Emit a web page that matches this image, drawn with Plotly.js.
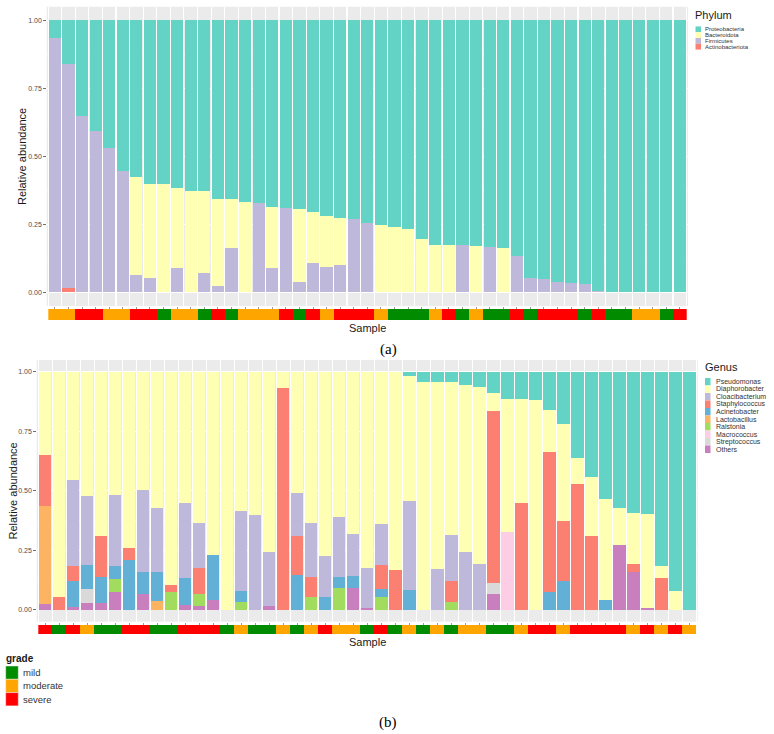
<!DOCTYPE html>
<html>
<head>
<meta charset="utf-8">
<script src="https://cdn.plot.ly/plotly-3.0.1.min.js"></script>
<style>html,body{margin:0;padding:0;background:#fff;}#chart{width:774px;height:734px;}</style>
</head>
<body>
<div id="chart"></div>
<script>
// ---------- Panel (a): Phylum ----------
const phylumNames = ["Proteobacteria", "Bacteroidota", "Firmicutes", "Actinobacteriota"];
const proteobacteria = [0.065,0.161,0.351,0.407,0.468,0.553,0.577,0.600,0.600,0.616,0.628,0.628,0.658,0.658,0.667,0.672,0.687,0.691,0.693,0.704,0.719,0.726,0.730,0.744,0.751,0.758,0.767,0.804,0.824,0.824,0.825,0.828,0.834,0.835,0.866,0.946,0.952,0.960,0.967,0.969,0.995,1,1,1,1,1,1];
const bacteroidota = [0,0,0,0,0,0,0.359,0.346,0.400,0.295,0.372,0.300,0.320,0.179,0.333,0,0.225,0,0.269,0.188,0.189,0.173,0,0,0.249,0.242,0.233,0.196,0.176,0.176,0,0.172,0,0.165,0,0,0,0,0,0,0,0,0,0,0,0,0];
const firmicutes = [0.935,0.824,0.649,0.593,0.532,0.447,0.064,0.054,0,0.089,0,0.072,0.022,0.163,0,0.328,0.088,0.309,0.038,0.108,0.092,0.101,0.270,0.256,0,0,0,0,0,0,0.175,0,0.166,0,0.134,0.054,0.048,0.040,0.033,0.031,0.005,0,0,0,0,0,0];
const actinobacteriota = [0,0.015,0,0,0,0,0,0,0,0,0,0,0,0,0,0,0,0,0,0,0,0,0,0,0,0,0,0,0,0,0,0,0,0,0,0,0,0,0,0,0,0,0,0,0,0,0];
const gradeA = ["moderate","moderate","severe","severe","moderate","moderate","severe","severe","mild","moderate","moderate","mild","severe","mild","moderate","moderate","moderate","severe","mild","severe","moderate","severe","severe","severe","moderate","mild","mild","mild","moderate","severe","mild","moderate","mild","mild","severe","mild","severe","severe","severe","mild","severe","mild","mild","moderate","moderate","mild","severe"];

// ---------- Panel (b): Genus ----------
const genusNames = ["Pseudomonas","Diaphorobacter","Cloacibacterium","Staphylococcus","Acinetobacter","Lactobacillus","Ralstonia","Macrococcus","Streptococcus","Others"];
const pseudomonas =     [0,0,0,0,0,0,0,0,0,0,0,0,0,0,0,0,0,0,0,0,0,0,0,0,0,0,0.017,0.043,0.043,0.043,0.056,0.064,0.088,0.112,0.116,0.119,0.159,0.218,0.363,0.441,0.536,0.570,0.594,0.598,0.815,0.919,1];
const diaphorobacter =  [0.351,0.947,0.456,0.520,0.688,0.516,0.742,0.498,0.573,0.895,0.550,0.635,0.770,1,0.586,0.603,0.755,0.068,0.508,0.635,0.774,0.611,0.681,0.824,0.640,0.833,0.526,0.957,0.784,0.644,0.703,0.742,0.075,0.562,0.436,0.881,0.177,0.408,0.107,0.248,0.421,0.159,0.214,0.395,0.051,0.081,0];
const cloacibacterium = [0,0,0.359,0.290,0,0.299,0,0.344,0.267,0,0.318,0.188,0,0,0.333,0.397,0.231,0,0.181,0.226,0.174,0.250,0.175,0.168,0.172,0,0.372,0,0.173,0.191,0.241,0.194,0,0,0,0,0,0,0,0,0,0,0,0,0,0,0];
const staphylococcus =  [0.212,0.053,0.065,0,0.175,0,0.049,0,0,0.031,0,0.109,0,0,0,0,0,0.932,0.163,0.087,0,0,0,0,0.100,0.167,0,0,0,0.089,0,0,0.724,0,0.448,0,0.591,0.255,0.530,0.311,0,0,0.033,0,0.134,0,0];
const acinetobacter =   [0,0,0.107,0.102,0.108,0.057,0.209,0.090,0.121,0,0.110,0,0.188,0,0.049,0,0,0,0.148,0,0.052,0.046,0.053,0,0.036,0,0.085,0,0,0,0,0,0,0,0,0,0.073,0.119,0,0,0.043,0,0,0,0,0,0];
const lactobacillus =   [0.411,0,0,0,0,0,0,0,0.039,0,0,0,0,0,0,0,0,0,0,0,0,0,0,0,0,0,0,0,0,0,0,0,0,0,0,0,0,0,0,0,0,0,0,0,0,0,0];
const ralstonia =       [0,0,0,0,0,0.054,0,0,0,0.074,0,0.053,0,0,0.032,0,0,0,0,0.052,0,0.093,0,0,0.052,0,0,0,0,0.033,0,0,0,0,0,0,0,0,0,0,0,0,0,0,0,0,0];
const macrococcus =     [0,0,0,0,0,0,0,0,0,0,0,0,0,0,0,0,0,0,0,0,0,0,0,0,0,0,0,0,0,0,0,0,0,0.326,0,0,0,0,0,0,0,0,0,0,0,0,0];
const streptococcus =   [0,0,0,0.059,0,0,0,0,0,0,0,0,0,0,0,0,0,0,0,0,0,0,0,0,0,0,0,0,0,0,0,0,0.045,0,0,0,0,0,0,0,0,0,0,0,0,0,0];
const others =          [0.026,0,0.013,0.029,0.029,0.074,0,0.068,0,0,0.022,0.015,0.042,0,0,0,0.014,0,0,0,0,0,0.091,0.008,0,0,0,0,0,0,0,0,0.068,0,0,0,0,0,0,0,0,0.271,0.159,0.007,0,0,0];
const gradeB = ["severe","mild","severe","moderate","mild","mild","severe","severe","mild","mild","severe","severe","severe","mild","moderate","mild","mild","moderate","mild","moderate","severe","moderate","moderate","mild","severe","mild","moderate","mild","moderate","mild","moderate","moderate","mild","mild","moderate","severe","severe","moderate","severe","severe","severe","severe","moderate","severe","moderate","severe","moderate"];

const gradeLevels = ["mild","moderate","severe"];

// ---------- styling ----------
const phylumColors = {Proteobacteria:"#63d3c6", Bacteroidota:"#ffffb3", Firmicutes:"#beb9da", Actinobacteriota:"#fb8072"};
const genusColors = {Pseudomonas:"#63d3c6", Diaphorobacter:"#ffffb3", Cloacibacterium:"#beb9da", Staphylococcus:"#fb8072", Acinetobacter:"#62b0d5", Lactobacillus:"#fdb462", Ralstonia:"#a2dc5e", Macrococcus:"#fccde5", Streptococcus:"#d9d9d9", Others:"#c97fbe"};
const gradeColors = {mild:"#008b00", moderate:"#ffa500", severe:"#ff0000"};

const W = 774, H = 734;
const FONT = "Liberation Sans, Arial, Helvetica, sans-serif";
const px = x => x / W;
const py = y => 1 - y / H;

const samples = proteobacteria.map((_, i) => i);

const traces = [];
const phylumSeries = {Proteobacteria: proteobacteria, Bacteroidota: bacteroidota, Firmicutes: firmicutes, Actinobacteriota: actinobacteriota};
phylumNames.slice().reverse().forEach(n => {
  traces.push({type:"bar", x: samples, y: phylumSeries[n], name: n, width: 0.9,
    marker:{color: phylumColors[n], line:{width:0}}, xaxis:"x", yaxis:"y", showlegend:false, hoverinfo:"name+y"});
});
traces.push({type:"bar", x: samples, y: samples.map(() => 1), width: 1,
  marker:{color: gradeA.map(g => gradeColors[g]), line:{width:0}}, xaxis:"x2", yaxis:"y2", showlegend:false, hoverinfo:"skip"});

const genusSeries = {Pseudomonas: pseudomonas, Diaphorobacter: diaphorobacter, Cloacibacterium: cloacibacterium, Staphylococcus: staphylococcus, Acinetobacter: acinetobacter, Lactobacillus: lactobacillus, Ralstonia: ralstonia, Macrococcus: macrococcus, Streptococcus: streptococcus, Others: others};
const samplesB = pseudomonas.map((_, i) => i);
genusNames.slice().reverse().forEach(n => {
  traces.push({type:"bar", x: samplesB, y: genusSeries[n], name: n, width: 0.9,
    marker:{color: genusColors[n], line:{width:0}}, xaxis:"x3", yaxis:"y3", showlegend:false, hoverinfo:"name+y"});
});
traces.push({type:"bar", x: samplesB, y: samplesB.map(() => 1), width: 1,
  marker:{color: gradeB.map(g => gradeColors[g]), line:{width:0}}, xaxis:"x4", yaxis:"y4", showlegend:false, hoverinfo:"skip"});

function mainX(domain, n) {
  return {domain, range:[-0.6, n - 1 + 0.6], showgrid:false, zeroline:false, showline:false,
    tickmode:"array", tickvals: Array.from({length:n}, (_, i) => i), ticktext: Array.from({length:n}, () => ""),
    ticks:"outside", ticklen:2, tickwidth:0.6, tickcolor:"#555",
    minor:{tick0:0.5, dtick:1, showgrid:true, gridcolor:"#ffffff", gridwidth:1.1, ticks:""},
    fixedrange:true};
}
function mainY(domain) {
  return {domain, range:[-0.05, 1.05], tickvals:[0,0.25,0.5,0.75,1], ticktext:["0.00","0.25","0.50","0.75","1.00"],
    ticks:"outside", ticklen:2.5, tickwidth:0.7, tickcolor:"#333", tickfont:{family:FONT, size:7, color:"#4d4d4d"},
    showgrid:true, gridcolor:"#ffffff", gridwidth:1, zeroline:false, showline:false,
    minor:{tickvals:[0.125,0.375,0.625,0.875], showgrid:true, gridcolor:"#ffffff", gridwidth:0.5}, fixedrange:true};
}
function stripAxisX(domain, n) {
  return {domain, range:[-0.5, n - 0.5], showgrid:false, zeroline:false, showline:false, showticklabels:false, ticks:"", fixedrange:true};
}
function stripAxisY(domain) {
  return {domain, range:[0, 1], showgrid:false, zeroline:false, showline:false, showticklabels:false, ticks:"", fixedrange:true};
}

const shapes = [];
const annotations = [];
shapes.push({type:"rect", xref:"paper", yref:"paper", x0:px(46.7), x1:px(688), y0:py(306), y1:py(6.7), fillcolor:"#ebebeb", line:{width:0}, layer:"below"});
shapes.push({type:"rect", xref:"paper", yref:"paper", x0:px(36.7), x1:px(697.7), y0:py(621.7), y1:py(360), fillcolor:"#ebebeb", line:{width:0}, layer:"below"});

function txt(text, x, y, opts) {
  annotations.push(Object.assign({text, xref:"paper", yref:"paper", x:px(x), y:py(y), showarrow:false, borderpad:0,
    xanchor:"center", yanchor:"middle", font:{family:FONT, size:11, color:"#1a1a1a"}}, opts || {}));
}
txt("Relative abundance", 22, 157, {textangle:-90});
txt("Sample", 367, 328);
txt("(a)", 388, 349, {font:{family:"Liberation Serif, DejaVu Serif, serif", size:15, color:"#000"}});
txt("Relative abundance", 12.5, 491, {textangle:-90});
txt("Sample", 367, 642);
txt("(b)", 388, 722, {font:{family:"Liberation Serif, DejaVu Serif, serif", size:15, color:"#000"}});

// legend: Phylum
txt("Phylum", 694, 15, {xanchor:"left", font:{family:FONT, size:11, color:"#1a1a1a"}});
phylumNames.forEach((n, i) => {
  const yc = 29.3 + i * 5.8;
  shapes.push({type:"rect", xref:"paper", yref:"paper", x0:px(695.5), x1:px(701), y0:py(yc + 2.9), y1:py(yc - 2.9), fillcolor:phylumColors[n], line:{width:0}});
  txt(n, 704, yc, {xanchor:"left", font:{family:FONT, size:6, color:"#333"}});
});
// legend: Genus
txt("Genus", 704, 366.7, {xanchor:"left", font:{family:FONT, size:11, color:"#1a1a1a"}});
genusNames.forEach((n, i) => {
  const yc = 381.7 + i * 7.51;
  shapes.push({type:"rect", xref:"paper", yref:"paper", x0:px(705), x1:px(710.5), y0:py(yc + 3.75), y1:py(yc - 3.75), fillcolor:genusColors[n], line:{width:0}});
  txt(n, 714.5, yc, {xanchor:"left", font:{family:FONT, size:7, color:"#333"}});
});
// legend: grade
txt("<b>grade</b>", 5, 658, {xanchor:"left", font:{family:FONT, size:10, color:"#1a1a1a"}});
gradeLevels.forEach((g, i) => {
  const y0 = 666 + i * 13.3;
  shapes.push({type:"rect", xref:"paper", yref:"paper", x0:px(5.7), x1:px(18.3), y0:py(y0 + 13.3), y1:py(y0), fillcolor:gradeColors[g], line:{width:0.5, color:"#f2f2f2"}});
  txt(g, 21.7, y0 + 6.65, {xanchor:"left", font:{family:FONT, size:9.5, color:"#333"}});
});

const layout = {
  width: W, height: H, margin:{l:0, r:0, t:0, b:0, pad:0},
  paper_bgcolor:"#ffffff", plot_bgcolor:"rgba(0,0,0,0)",
  barmode:"stack", showlegend:false,
  xaxis: Object.assign(mainX([px(46.7), px(688)], 47), {anchor:"y"}),
  yaxis: Object.assign(mainY([py(306), py(6.7)]), {anchor:"x"}),
  xaxis2: Object.assign(stripAxisX([px(48.3), px(686.7)], 47), {anchor:"y2"}),
  yaxis2: Object.assign(stripAxisY([py(320), py(309)]), {anchor:"x2"}),
  xaxis3: Object.assign(mainX([px(36.7), px(697.7)], 47), {anchor:"y3"}),
  yaxis3: Object.assign(mainY([py(621.7), py(360)]), {anchor:"x3"}),
  xaxis4: Object.assign(stripAxisX([px(38.3), px(696.1)], 47), {anchor:"y4"}),
  yaxis4: Object.assign(stripAxisY([py(634), py(625)]), {anchor:"x4"}),
  shapes, annotations
};

Plotly.newPlot("chart", traces, layout, {staticPlot:true, displayModeBar:false});
</script>
</body>
</html>
